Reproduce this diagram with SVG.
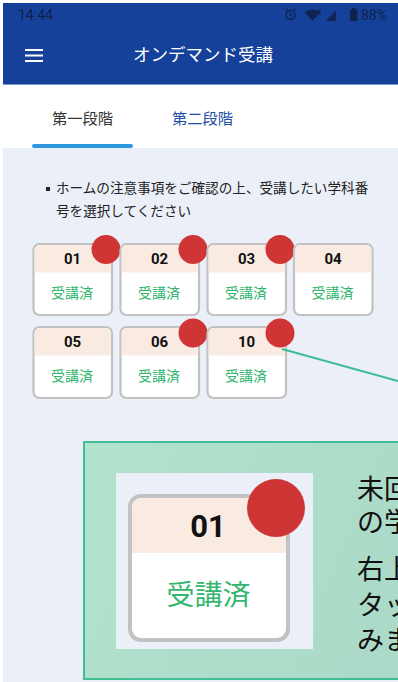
<svg xmlns="http://www.w3.org/2000/svg" width="398" height="682" viewBox="0 0 398 682">
<style>
text{font-family:"Noto Sans CJK JP","Roboto",sans-serif}
.num{font-family:Roboto,"Noto Sans CJK JP",sans-serif;font-weight:700;font-size:15px;fill:#111;text-anchor:middle}
.done{font-size:14px;fill:#35b66f;text-anchor:middle}
.body{font-size:13.600px;fill:#222}
.big{font-size:27px;fill:#111}
.st{font-family:Roboto,sans-serif;font-size:14px;fill:#10224f}
.frame{fill:#fff;stroke:#c2c2c2;stroke-width:2.200}
.head{fill:#f9ebe1}
.dot{fill:#cf3535}
.ic{fill:#10224f}
</style>
<defs>
<linearGradient id="cg" x1="0" y1="0" x2="1" y2="0.3"><stop offset="0" stop-color="#b1e3ce"/><stop offset="1" stop-color="#acdac8"/></linearGradient>
<g id="card">
<rect class="frame" x="0" y="0" width="78.500" height="71" rx="6"/>
<path class="head" d="M1.100 28.500V6a5 5 0 0 1 5-5H72.400a5 5 0 0 1 5 5V28.500Z"/>
</g>
</defs>
<rect width="398" height="682" fill="#fff"/>
<rect id="bg" x="3" y="148" width="395" height="534" fill="#ebf0f8"/>
<g id="appbar">
<rect x="3" y="3" width="395" height="81" fill="#15419a"/>
<rect x="3" y="84" width="395" height="1" fill="#7a97d0"/>
<text class="st" x="18" y="20">14:44</text>
<g fill="none" stroke="#10224f" stroke-width="1.500"><circle cx="290.500" cy="15" r="4.500"/><path d="M290.500 12.500V15.500H292.500M285.500 10.500L287.500 9M295.500 10.500L293.500 9"/></g>
<path class="ic" d="M304.500 12a14 14 0 0 1 16 0L312.500 21Z"/>
<path class="ic" d="M319 9h1.500v2.500h-1.500zM319 12.500h1.500v2.500h-1.500z"/>
<path class="ic" d="M326 21L336 10V21Z" opacity=".85"/>
<rect class="ic" x="350" y="9.500" width="7.500" height="11.500" rx="1"/><rect class="ic" x="352" y="8" width="3.500" height="2"/>
<text class="st" x="361" y="20">88%</text>
<g id="menu" fill="#fff"><rect x="25" y="49" width="18" height="2"/><rect x="25" y="54.500" width="18" height="2"/><rect x="25" y="60" width="18" height="2"/></g>
<text x="203" y="60.500" font-size="17.500px" fill="#fff" text-anchor="middle">オンデマンド受講</text>
</g>
<g id="tabs">
<text x="82.500" y="124" font-size="15.300px" fill="#333" text-anchor="middle">第一段階</text>
<text x="202.500" y="124" font-size="15.300px" fill="#1f4ea6" text-anchor="middle">第二段階</text>
<rect x="32" y="144" width="101" height="4" rx="2" fill="#2e97e0"/>
</g>
<g id="instruction">
<rect x="46" y="187" width="4" height="4" fill="#222"/>
<text class="body" x="56" y="193">ホームの注意事項をご確認の上、受講したい学科番</text>
<text class="body" x="56" y="216">号を選択してください</text>
</g>
<g id="n01"><use href="#card" x="33.500" y="244"/><text class="num" x="72.500" y="263.500">01</text><text class="done" x="72" y="298">受講済</text><circle class="dot" cx="106" cy="249.500" r="14.500"/></g>
<g id="n02"><use href="#card" x="120.500" y="244"/><text class="num" x="159.500" y="263.500">02</text><text class="done" x="159" y="298">受講済</text><circle class="dot" cx="193" cy="249.500" r="14.500"/></g>
<g id="n03"><use href="#card" x="207.500" y="244"/><text class="num" x="246.500" y="263.500">03</text><text class="done" x="246" y="298">受講済</text><circle class="dot" cx="280" cy="249.500" r="14.500"/></g>
<g id="n04"><use href="#card" x="294" y="244"/><text class="num" x="333" y="263.500">04</text><text class="done" x="332.500" y="298">受講済</text></g>
<g id="n05"><use href="#card" x="33.500" y="327"/><text class="num" x="72.500" y="346.500">05</text><text class="done" x="72" y="381">受講済</text></g>
<g id="n06"><use href="#card" x="120.500" y="327"/><text class="num" x="159.500" y="346.500">06</text><text class="done" x="159" y="381">受講済</text><circle class="dot" cx="193" cy="333" r="14.500"/></g>
<g id="n10"><use href="#card" x="207.500" y="327"/><text class="num" x="246.500" y="346.500">10</text><text class="done" x="246" y="381">受講済</text><circle class="dot" cx="280" cy="333" r="14.500"/></g>
<g id="connectors"><path d="M282 349L398 381" fill="none" stroke="#3dbb94" stroke-width="2"/></g>
<g id="callout">
<rect x="84" y="442" width="330" height="237" fill="url(#cg)" stroke="#43bd96" stroke-width="2"/>
<rect x="116" y="473" width="197" height="176" fill="#ebf0f8"/>
<rect x="130" y="496" width="158" height="144" rx="11" fill="#fff" stroke="#c2c2c2" stroke-width="4"/>
<path class="head" d="M132 553V507a9 9 0 0 1 9-9H277a9 9 0 0 1 9 9V553Z"/>
<text x="208" y="537" font-weight="700" font-size="31px" fill="#111" text-anchor="middle" style="font-family:Roboto,sans-serif">01</text>
<text x="208.500" y="605" font-size="28px" fill="#35b66f" text-anchor="middle">受講済</text>
<circle class="dot" cx="276" cy="508" r="29"/>
<text class="big" x="357" y="499">未回</text>
<text class="big" x="357" y="532">の学</text>
<text class="big" x="357" y="579">右上</text>
<text class="big" x="357" y="615">タッ</text>
<text class="big" x="357" y="650">みま</text>
</g>
</svg>
